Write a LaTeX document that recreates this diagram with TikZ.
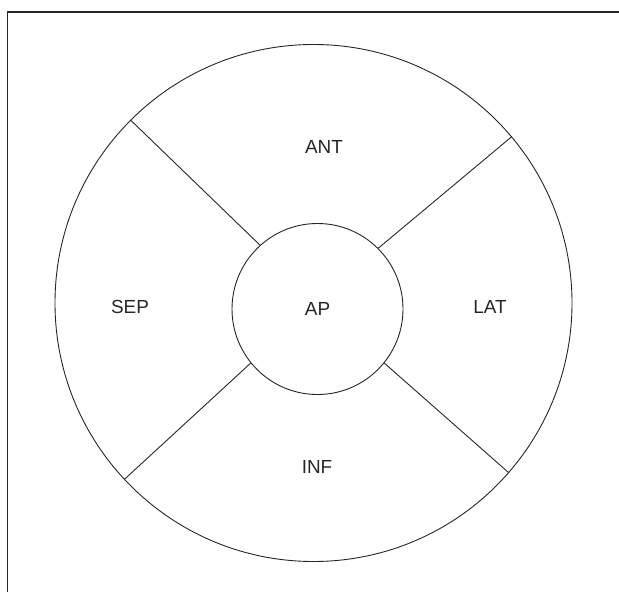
\documentclass[tikz,border=0pt]{standalone}
\usepackage{fontspec}
\setmainfont{Liberation Sans}
\begin{document}
\begin{tikzpicture}[x=1bp,y=-1bp,
  ring/.style={draw=black!85, line width=0.9bp, circle, inner sep=0pt},
  spoke/.style={draw=black!85, line width=0.9bp},
  frame/.style={draw=black!85, line width=1.2bp},
  lbl/.style={font=\fontsize{19}{20}\selectfont, text=black!85, inner sep=0pt}]
  \useasboundingbox (0,0) rectangle (619,592);
  % open frame: top and left edges only
  \coordinate (ftr) at (619,12);
  \coordinate (ftl) at (7.5,12);
  \coordinate (fbl) at (7.5,592);
  \draw[frame] (ftr) -- (ftl) -- (fbl);
  % outer and central circles
  \node[ring, minimum size=517bp] (outer) at (313.5,303) {};
  \node[ring, minimum size=171bp] (ap) at (317.5,309) {};
  % spokes between the circles
  \draw[spoke] (ap.132.9) -- (outer.135.3);
  \draw[spoke] (ap.45.2) -- (outer.40.3);
  \draw[spoke] (ap.219.1) -- (outer.223.9);
  \draw[spoke] (ap.-39.6) -- (outer.-41.9);
  % region labels
  \node[lbl] (lap) at (317.5,309) {AP};
  \node[lbl] (lant) at (324,147) {ANT};
  \node[lbl] (lsep) at (130,307) {SEP};
  \node[lbl] (llat) at (490,307) {LAT};
  \node[lbl] (linf) at (317,467) {INF};
\end{tikzpicture}
\end{document}
